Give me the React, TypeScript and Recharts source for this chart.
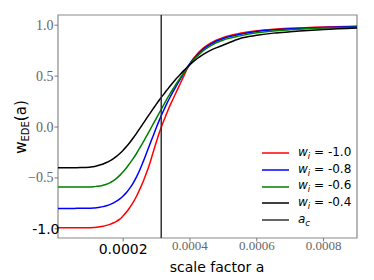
import { LineChart, Line, XAxis, YAxis, ReferenceLine, ReferenceArea, Legend } from "recharts";

// scale factor samples
const aVals = [
  0.000005, 0.00003, 0.00006, 0.00008,
  0.0001, 0.00011, 0.00012, 0.00013, 0.00014, 0.00015, 0.00016, 0.00017, 0.00018, 0.00019,
  0.0002, 0.00021, 0.00022, 0.00023, 0.00024, 0.00025, 0.00026, 0.00027, 0.00028, 0.00029,
  0.0003, 0.00031, 0.00032, 0.00033, 0.00034, 0.00035, 0.00036, 0.00037, 0.00038, 0.00039,
  0.0004,
  0.00041, 0.00042, 0.00043, 0.00044, 0.00046, 0.00048, 0.0005, 0.00055, 0.0006, 0.00065, 0.0007, 0.0008, 0.0009,
];

// w_EDE(a), one array per w_i
const wm10 = [
  -0.99, -0.99, -0.99, -0.99,
  -0.989, -0.987, -0.984, -0.98, -0.974, -0.966, -0.956, -0.943, -0.926, -0.905,
  -0.872, -0.835, -0.79, -0.74, -0.68, -0.61, -0.535, -0.45, -0.355, -0.245,
  -0.14, -0.04, 0.05, 0.13, 0.21, 0.28, 0.35, 0.42, 0.49, 0.56,
  0.62,
  0.67, 0.71, 0.745, 0.775, 0.82, 0.855, 0.88, 0.92, 0.945, 0.96, 0.97, 0.983, 0.99,
];
const wm08 = [
  -0.8, -0.8, -0.799, -0.798,
  -0.797, -0.795, -0.792, -0.788, -0.782, -0.773, -0.762, -0.747, -0.728, -0.705,
  -0.677, -0.643, -0.6, -0.55, -0.49, -0.42, -0.34, -0.255, -0.17, -0.085,
  0.0, 0.08, 0.155, 0.225, 0.29, 0.35, 0.41, 0.465, 0.52, 0.575,
  0.625,
  0.665, 0.7, 0.735, 0.765, 0.81, 0.845, 0.87, 0.91, 0.938, 0.954, 0.964, 0.978, 0.986,
];
const wm06 = [
  -0.59, -0.59, -0.589, -0.589,
  -0.588, -0.586, -0.583, -0.579, -0.572, -0.562, -0.548, -0.53, -0.505, -0.475,
  -0.44, -0.4, -0.355, -0.31, -0.26, -0.205, -0.148, -0.09, -0.03, 0.03,
  0.09, 0.15, 0.21, 0.27, 0.325, 0.378, 0.43, 0.478, 0.525, 0.57,
  0.615,
  0.655, 0.69, 0.72, 0.75, 0.795, 0.83, 0.855, 0.895, 0.925, 0.943, 0.955, 0.972, 0.98,
];
const wm04 = [
  -0.4, -0.4, -0.399, -0.397,
  -0.395, -0.39, -0.383, -0.374, -0.363, -0.349, -0.332, -0.312, -0.288, -0.26,
  -0.228, -0.192, -0.152, -0.108, -0.062, -0.014, 0.035, 0.084, 0.132, 0.18,
  0.227, 0.272, 0.316, 0.358, 0.4, 0.44, 0.478, 0.514, 0.549, 0.582,
  0.613,
  0.642, 0.668, 0.692, 0.713, 0.75, 0.78, 0.805, 0.87, 0.9, 0.922, 0.935, 0.957, 0.972,
];

const aC = 0.000314;

const xTicks = [0.0002, 0.0004, 0.0006, 0.0008];
const yTicks = [-1, -0.5, 0, 0.5, 1];

const series = [
  { key: "wm10", label: "-1.0", color: "#ff0000" },
  { key: "wm08", label: "-0.8", color: "#0000ff" },
  { key: "wm06", label: "-0.6", color: "#008000" },
  { key: "wm04", label: "-0.4", color: "#000000" },
];

const data = aVals.map((a, i) => ({
  a,
  wm10: wm10[i],
  wm08: wm08[i],
  wm06: wm06[i],
  wm04: wm04[i],
}));

const serif = "'Liberation Serif', 'DejaVu Serif', serif";
const sans = "'DejaVu Sans', sans-serif";

const XTick = (props: any) => {
  const { x, payload } = props;
  const big = Math.abs(payload.value - 0.0002) < 1e-9;
  return (
    <text
      x={x}
      y={big ? 249 : 245.5}
      textAnchor="middle"
      dominantBaseline="central"
      style={{ fontFamily: big ? sans : serif, fontSize: big ? 14 : 13, fill: big ? "#000" : "#666" }}
    >
      {payload.value.toFixed(4)}
    </text>
  );
};

const YTick = (props: any) => {
  const { y, payload } = props;
  const big = payload.value === -1;
  const txt = big ? "-1.0" : payload.value.toFixed(1).replace("-", "\u2212");
  return (
    <text
      x={big ? 59.5 : 53.5}
      y={y}
      textAnchor="end"
      dominantBaseline="central"
      style={{ fontFamily: big ? sans : serif, fontSize: 14, fill: big ? "#000" : "#666" }}
    >
      {txt}
    </text>
  );
};

const YLabel = () => (
  <text
    x={21}
    y={127}
    transform="rotate(-90 21 127)"
    textAnchor="middle"
    dominantBaseline="central"
    style={{ fontFamily: sans, fontSize: 15, fill: "#000" }}
  >
    w<tspan fontSize={10} dy={4}>EDE</tspan>
    <tspan dy={-4}>(a)</tspan>
  </text>
);

const XLabel = () => (
  <text
    x={217}
    y={267}
    textAnchor="middle"
    dominantBaseline="central"
    style={{ fontFamily: sans, fontSize: 14, fill: "#000" }}
  >
    scale factor a
  </text>
);

const LegendBox = () => {
  const items = [
    ...series.map((s) => ({ color: s.color, label: s.label, sub: "i" })),
    { color: "#333333", label: "", sub: "c" },
  ];
  return (
    <div style={{ fontFamily: sans, fontSize: 12, color: "#000" }}>
      {items.map((it, i) => (
        <div key={i} style={{ height: 16.67, display: "flex", alignItems: "center" }}>
          <svg width={27} height={4} style={{ flexShrink: 0, marginRight: 9 }}>
            <line x1={0} y1={2} x2={27} y2={2} stroke={it.color} strokeWidth={1.5} />
          </svg>
          <span style={{ whiteSpace: "nowrap" }}>
            <i>{it.sub === "i" ? "w" : "a"}</i>
            <sub style={{ fontSize: 8.5, fontStyle: "italic" }}>{it.sub}</sub>
            {it.label ? ` = ${it.label}` : ""}
          </span>
        </div>
      ))}
    </div>
  );
};

export default function App() {
  return (
    <div style={{ position: "absolute", left: 0, top: 0, width: 374, height: 280, background: "#fff" }}>
      <LineChart width={374} height={280} data={data} margin={{ top: 15, right: 17, bottom: 0, left: 0 }}>
        <XAxis
          dataKey="a"
          type="number"
          domain={[0.000005, 0.0009]}
          ticks={xTicks}
          allowDataOverflow
          height={42}
          axisLine={false}
          tickLine={{ stroke: "#777" }}
          tickSize={3.5}
          tick={<XTick />}
          label={<XLabel />}
        />
        <YAxis
          type="number"
          domain={[-1.09, 1.1]}
          ticks={yTicks}
          allowDataOverflow
          width={58}
          axisLine={false}
          tickLine={{ stroke: "#777" }}
          tickSize={3.5}
          tick={<YTick />}
          label={<YLabel />}
        />
        <ReferenceArea
          x1={0.000005}
          x2={0.0009}
          y1={-1.09}
          y2={1.1}
          fill="none"
          fillOpacity={0}
          stroke="#8a8a8a"
          strokeWidth={1.2}
        />
        {series.map((s) => (
          <Line
            key={s.key}
            dataKey={s.key}
            type="monotone"
            stroke={s.color}
            strokeWidth={1.5}
            dot={false}
            isAnimationActive={false}
          />
        ))}
        <ReferenceLine x={aC} stroke="#333" strokeWidth={1.5} />
        <Legend
          layout="vertical"
          align="center"
          verticalAlign="middle"
          content={<LegendBox />}
          wrapperStyle={{ left: 262, top: 145, width: 100, height: 85 }}
        />
      </LineChart>
    </div>
  );
}
